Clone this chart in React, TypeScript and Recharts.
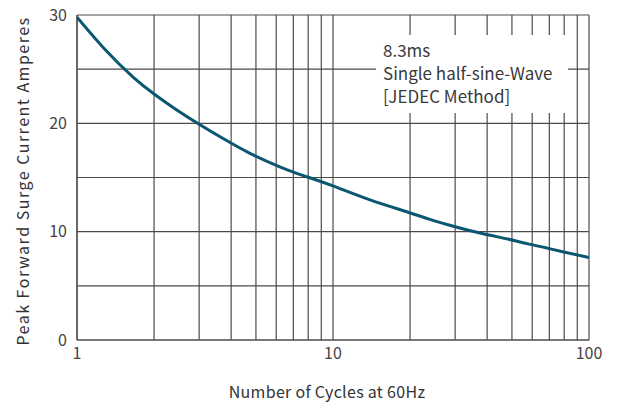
import React from 'react';
import { LineChart, Line, XAxis, YAxis, CartesianGrid } from 'recharts';

const cycles = [1, 1.29, 1.66, 2, 2.42, 3, 3.81, 4.74, 5.76, 6.75, 7.9, 10, 13.95, 19.4, 23.9, 30, 37.9, 48.1, 57.9, 67.8, 78.9, 100];
const amperes = [29.8, 26.79, 24.24, 22.71, 21.33, 19.92, 18.46, 17.23, 16.31, 15.63, 15.07, 14.22, 12.93, 11.84, 11.14, 10.46, 9.85, 9.32, 8.87, 8.51, 8.15, 7.62];

const xTicks = [1, 2, 3, 4, 5, 6, 7, 8, 9, 10, 20, 30, 40, 50, 60, 70, 80, 90, 100];
const xLabels = [1, 10, 100];
const yTicks = [0, 5, 10, 15, 20, 25, 30];
const yLabels = [0, 10, 20, 30];

const noteLines = ['8.3ms', 'Single half-sine-Wave', '[JEDEC Method]'];
const xTitle = 'Number of Cycles at 60Hz';
const yTitle = 'Peak Forward Surge Current Amperes';

const data = cycles.map((c, i) => ({ x: c, y: amperes[i] }));

const FONT = '"Noto Sans CJK SC", "Noto Sans", sans-serif';

export default function App() {
  return (
    <div style={{ position: 'absolute', left: 0, top: 0, width: 622, height: 406, background: '#fff', fontFamily: FONT }}>
      <LineChart width={622} height={406} data={data} margin={{ top: 15, right: 33, bottom: 36, left: 17 }}>
        <CartesianGrid stroke="#4f4a4a" strokeWidth={1.2} />
        <XAxis
          dataKey="x"
          type="number"
          scale="log"
          domain={[1, 100]}
          ticks={xTicks}
          interval={0}
          allowDataOverflow
          height={30}
          tickLine={false}
          axisLine={{ stroke: '#4f4a4a', strokeWidth: 1.2 }}
          tickFormatter={(v: number) => (xLabels.includes(v) ? String(v) : '')}
          tick={{ fill: '#444', fontSize: 16, fontFamily: FONT }}
        />
        <YAxis
          type="number"
          domain={[0, 30]}
          ticks={yTicks}
          interval={0}
          width={60}
          tickLine={false}
          tickMargin={4}
          axisLine={{ stroke: '#4f4a4a', strokeWidth: 1.2 }}
          tickFormatter={(v: number) => (yLabels.includes(v) ? String(v) : '')}
          tick={{ fill: '#444', fontSize: 16, fontFamily: FONT }}
        />
        <Line
          type="natural"
          dataKey="y"
          stroke="#0b5670"
          strokeWidth={3}
          dot={false}
          isAnimationActive={false}
        />
      </LineChart>
      <div
        style={{
          position: 'absolute',
          left: 376,
          top: 35,
          width: 192,
          height: 78,
          background: '#fff',
          boxSizing: 'border-box',
          paddingLeft: 7,
          paddingTop: 3,
          fontSize: 17,
          lineHeight: '23px',
          color: '#3a3a3a',
          whiteSpace: 'nowrap',
        }}
      >
        {noteLines.map((t) => (
          <div key={t}>{t}</div>
        ))}
      </div>
      <div
        style={{
          position: 'absolute',
          left: 0,
          width: 654,
          top: 381,
          textAlign: 'center',
          fontSize: 16,
          letterSpacing: 0.3,
          lineHeight: '20px',
          color: '#333',
        }}
      >
        {xTitle}
      </div>
      <div
        style={{
          position: 'absolute',
          left: 22,
          top: 181,
          transform: 'translate(-50%, -50%) rotate(-90deg)',
          fontSize: 16,
          letterSpacing: 1.5,
          lineHeight: '20px',
          color: '#333',
          whiteSpace: 'nowrap',
        }}
      >
        {yTitle}
      </div>
    </div>
  );
}
